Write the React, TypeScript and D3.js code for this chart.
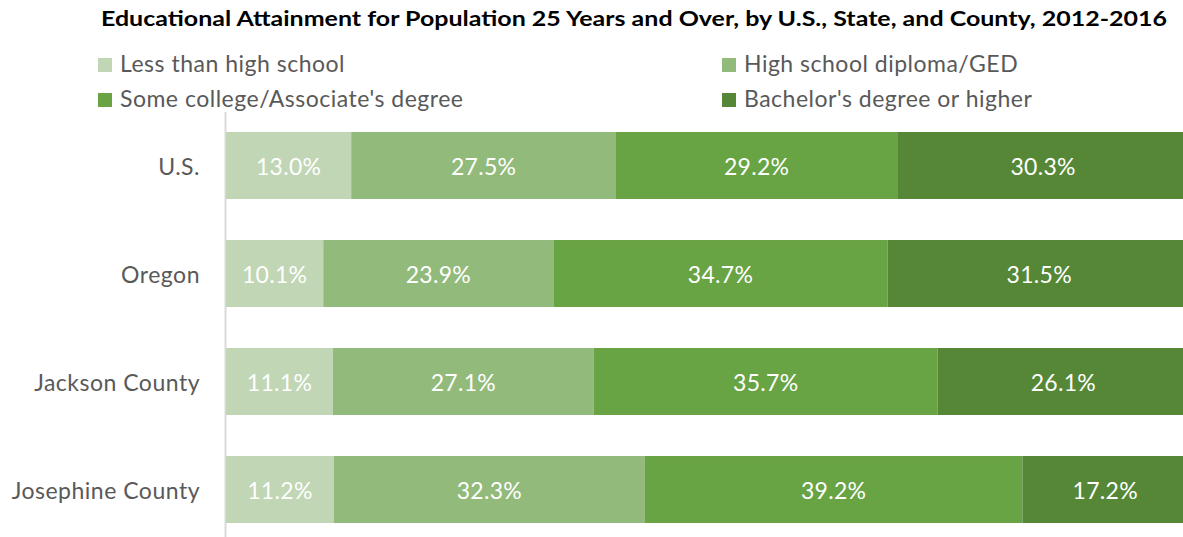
import React from "react";
import * as d3 from "d3";

const title = "Educational Attainment for Population 25 Years and Over, by U.S., State, and County, 2012-2016";
const categories = ["U.S.", "Oregon", "Jackson County", "Josephine County"];
const seriesNames = [
  "Less than high school",
  "High school diploma/GED",
  "Some college/Associate's degree",
  "Bachelor's degree or higher",
];
const lessThanHS = [13.0, 10.1, 11.1, 11.2];
const highSchool = [27.5, 23.9, 27.1, 32.3];
const someCollege = [29.2, 34.7, 35.7, 39.2];
const bachelors = [30.3, 31.5, 26.1, 17.2];
const colors = ["#c0d6b4", "#92ba7b", "#68a344", "#558736"];

const W = 1183;
const H = 537;
const FONT = "Lato, 'Open Sans', sans-serif";

export default function App() {
  const series = [lessThanHS, highSchool, someCollege, bachelors];
  const rows = categories.map((c, i) => {
    const r: any = { cat: c };
    seriesNames.forEach((s, j) => (r[s] = series[j][i]));
    return r;
  });
  const stacked = d3.stack<any>().keys(seriesNames)(rows);

  const x = d3.scaleLinear().domain([0, 100]).range([226, 1189]);
  const y = d3
    .scaleBand<string>()
    .domain(categories)
    .range([111.5, 543.5])
    .paddingInner(0.38)
    .paddingOuter(0.19);

  const legendPos = [
    { x: 98, y: 65 },
    { x: 722, y: 65 },
    { x: 98, y: 100 },
    { x: 722, y: 100 },
  ];

  return (
    <svg
      width={W}
      height={H}
      style={{ position: "absolute", left: 0, top: 0, background: "#fff" }}
      fontFamily={FONT}
    >
      <text
        x={634}
        y={26}
        textAnchor="middle"
        fontWeight="bold"
        fontSize={20}
        fill="#000"
        textLength={1066}
        lengthAdjust="spacingAndGlyphs"
      >
        {title}
      </text>
      {seriesNames.map((s, i) => (
        <g key={s}>
          <rect x={legendPos[i].x} y={legendPos[i].y - 7} width={14} height={14} fill={colors[i]} />
          <text
            x={legendPos[i].x + 22}
            y={legendPos[i].y + 7}
            fontSize={23}
            letterSpacing={0.5}
            fill="#595959"
          >
            {s}
          </text>
        </g>
      ))}
      <line x1={225.5} x2={225.5} y1={112} y2={H} stroke="#d9d9d9" strokeWidth={2} />
      {stacked.map((layer, i) => (
        <g key={layer.key} fill={colors[i]}>
          {layer.map((d: any, k: number) => (
            <rect
              key={k}
              x={x(d[0])}
              y={y(d.data.cat)}
              width={x(d[1]) - x(d[0])}
              height={y.bandwidth()}
            />
          ))}
        </g>
      ))}
      {stacked.map((layer) => (
        <g key={"l" + layer.key}>
          {layer.map((d: any, k: number) => (
            <text
              key={k}
              x={(x(d[0]) + x(d[1])) / 2}
              y={(y(d.data.cat) as number) + y.bandwidth() / 2 + 9}
              textAnchor="middle"
              fontSize={23}
              letterSpacing={0.3}
              fill="#fff"
            >
              {(d[1] - d[0]).toFixed(1)}%
            </text>
          ))}
        </g>
      ))}
      {categories.map((c) => (
        <text
          key={c}
          x={200}
          y={(y(c) as number) + y.bandwidth() / 2 + 9}
          textAnchor="end"
          fontSize={23}
          letterSpacing={0.5}
          fill="#595959"
        >
          {c}
        </text>
      ))}
    </svg>
  );
}
